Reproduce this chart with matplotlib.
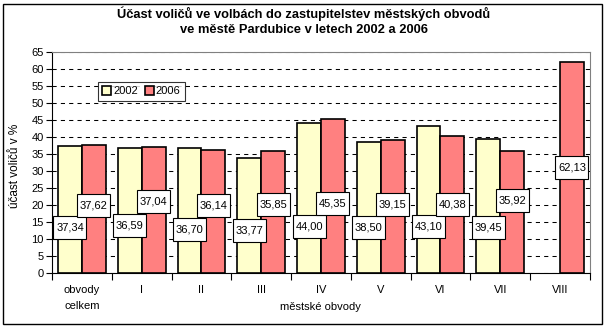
import matplotlib.pyplot as plt
import numpy as np
from matplotlib.patches import Rectangle
from matplotlib.transforms import ScaledTranslation

plt.rcParams['font.family'] = ['Liberation Sans', 'DejaVu Sans']

obvody = ['obvody\ncelkem', 'I', 'II', 'III', 'IV', 'V', 'VI', 'VII', 'VIII']
ucast_2002 = [37.34, 36.59, 36.70, 33.77, 44.00, 38.50, 43.10, 39.45, np.nan]
ucast_2006 = [37.62, 37.04, 36.14, 35.85, 45.35, 39.15, 40.38, 35.92, 62.13]

# where the value boxes sit (they were dragged around in the original)
lab_y_2002 = [13.2, 14.0, 12.6, 12.4, 13.5, 13.2, 13.7, 13.2, np.nan]
lab_y_2006 = [19.9, 20.9, 19.9, 20.0, 20.5, 20.0, 20.0, 21.4, 31.1]

fig = plt.figure(figsize=(6.05, 3.28), dpi=100)
ax = fig.add_axes([0.086, 0.169, 0.889, 0.672])

x = np.arange(len(obvody))
w = 0.4
ax.bar(x - w / 2, ucast_2002, w, color='#FFFFCC', edgecolor='black', linewidth=1.2, label='2002', zorder=3)
ax.bar(x + w / 2, ucast_2006, w, color='#FF8080', edgecolor='black', linewidth=1.2, label='2006', zorder=3)


def value_box(xc, yc, val):
    # white box, wider padding top/bottom than sides like the excel labels
    tr = fig.dpi_scale_trans + ScaledTranslation(xc, yc, ax.transData)
    ax.add_patch(Rectangle((-0.165, -0.115), 0.33, 0.23, transform=tr, facecolor='white',
                           edgecolor='black', linewidth=0.8, zorder=5, clip_on=False))
    ax.text(xc, yc, f'{val:.2f}'.replace('.', ','), ha='center', va='center',
            fontsize=8, zorder=6)


for i in range(len(obvody)):
    if not np.isnan(ucast_2002[i]):
        value_box(x[i] - w / 2, lab_y_2002[i], ucast_2002[i])
    value_box(x[i] + w / 2, lab_y_2006[i], ucast_2006[i])

ax.set_xlim(-0.5, len(obvody) - 0.5)
ax.set_ylim(0, 65)
ax.set_yticks(np.arange(0, 66, 5))
ax.yaxis.grid(True, color='black', linestyle=(0, (4, 4)), linewidth=0.75, zorder=0)
ax.tick_params(axis='y', labelsize=8, length=4, width=0.8, pad=2)

ax.set_xticks(x)
ax.set_xticklabels(obvody, fontsize=8, linespacing=1.7, va='top')
ax.set_xticks(np.arange(-0.5, len(obvody)), minor=True)
ax.tick_params(axis='x', which='major', length=0, pad=9)
ax.tick_params(axis='x', which='minor', length=5, width=0.8)

for s in ['top', 'right']:
    ax.spines[s].set_color('#808080')
for s in ['left', 'bottom']:
    ax.spines[s].set_color('black')

fig.text(0.025, 0.495, 'účast voličů v %', rotation=90, ha='center', va='center', fontsize=8.5)
fig.text(0.53, 0.064, 'městské obvody', ha='center', va='center', fontsize=8)

leg = ax.legend(loc='upper left', bbox_to_anchor=(0.085, 0.865), ncol=2, fontsize=8,
                frameon=True, fancybox=False, edgecolor='black', handlelength=0.8,
                handleheight=0.8, handletextpad=0.2, columnspacing=0.6, borderpad=0.4,
                borderaxespad=0)
leg.get_frame().set_linewidth(0.8)

fig.text(0.502, 0.935, 'Účast voličů ve volbách do zastupitelstev městských obvodů\nve městě Pardubice v letech 2002 a 2006',
         ha='center', va='center', fontsize=9.3, fontweight='bold', linespacing=1.3)

fig.patches.append(Rectangle((0.005, 0.012), 0.99, 0.975, transform=fig.transFigure,
                             fill=False, edgecolor='black', linewidth=1))

fig.savefig('out.png', dpi=100)
